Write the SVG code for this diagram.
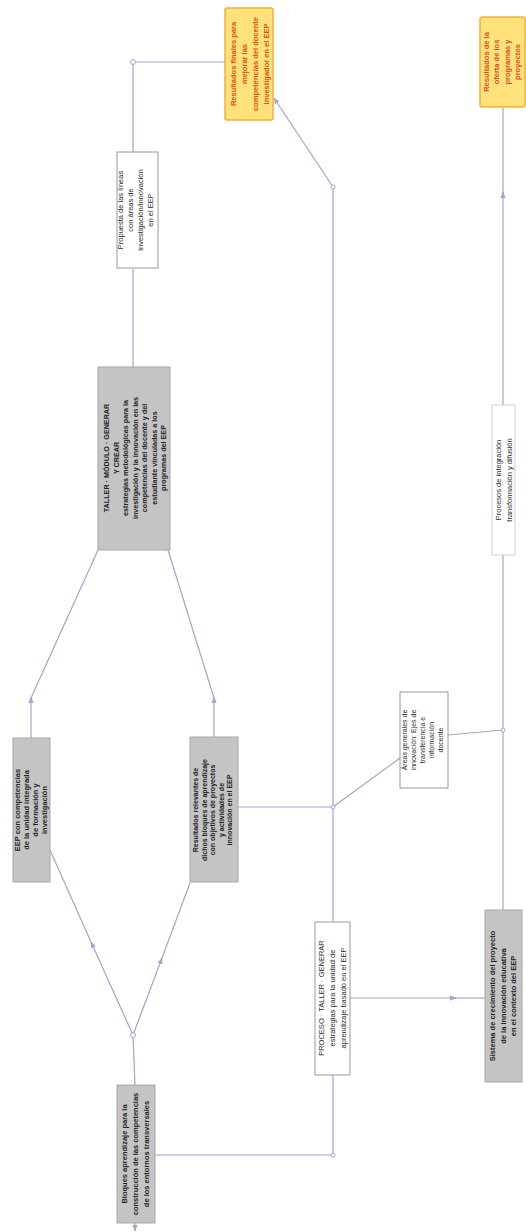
<svg xmlns="http://www.w3.org/2000/svg" width="526" height="1232" viewBox="0 0 526 1232">
<style>
.gray{fill:#c4c4c4;stroke:#a8a8a8;stroke-width:1}
.white{fill:#ffffff;stroke:#9a9a9a;stroke-width:1}
.yellow{fill:#ffe27a;stroke:#f2b03a;stroke-width:1.5}
.t{font-family:"Liberation Sans",Arial,sans-serif;font-size:7.5px;fill:#2a2a2a;text-anchor:middle}
.tb{font-family:"Liberation Sans",Arial,sans-serif;font-size:7.5px;fill:#222222;text-anchor:middle;font-weight:bold}
.ty{font-family:"Liberation Sans",Arial,sans-serif;font-size:7.5px;fill:#de4a1c;text-anchor:middle;font-weight:bold}
.c{fill:none;stroke:#a4a4cf;stroke-width:1.2}
.dot{fill:#ffffff;stroke:#a4a4cf;stroke-width:1}
</style>
<defs>
<marker id="arr" viewBox="0 0 10 10" refX="9" refY="5" markerWidth="5.5" markerHeight="5.5" orient="auto">
<path d="M0,1 L10,5 L0,9 Z" fill="#a4a4cf"/>
</marker>
</defs>
<rect width="526" height="1232" fill="#ffffff"/>

<g id="connectors">
<path class="c" d="M135,1223 L135,1231" marker-end="url(#arr)"/>
<path class="c" d="M135,1085 L133,1035"/>
<path class="c" d="M133,1035 L91,942" marker-end="url(#arr)"/>
<path class="c" d="M91,942 L50,850"/>
<path class="c" d="M133,1035 L162,958" marker-end="url(#arr)"/>
<path class="c" d="M162,958 L190,883"/>
<path class="c" d="M31,738 L31,697" marker-end="url(#arr)"/>
<path class="c" d="M31,698 L98,550"/>
<path class="c" d="M214,738 L214,697" marker-end="url(#arr)"/>
<path class="c" d="M214,698 L168,550"/>
<path class="c" d="M133,367 L133,269"/>
<path class="c" d="M133,152 L133,62 L225,62"/>
<path class="c" d="M238,807 L333,807"/>
<path class="c" d="M155,1155 L333,1155 L333,187"/>
<path class="c" d="M333,187 L274,98" marker-end="url(#arr)"/>
<path class="c" d="M350,998 L456,998" marker-end="url(#arr)"/>
<path class="c" d="M455,998 L485,998"/>
<path class="c" d="M333,807 L400,758"/>
<path class="c" d="M448,735 L503,730"/>
<path class="c" d="M503,910 L503,192" marker-end="url(#arr)"/>
<path class="c" d="M503,193 L503,108"/>
<circle class="dot" cx="133" cy="1035" r="2.5"/>
<circle class="dot" cx="133" cy="62" r="2.5"/>
<circle class="dot" cx="333" cy="807" r="2"/>
<circle class="dot" cx="333" cy="187" r="2"/>
<circle class="dot" cx="333" cy="1155" r="2"/>
<circle class="dot" cx="503" cy="730" r="2"/>
</g>

<g id="node-bloques">
<rect class="gray" x="117" y="1085" width="38" height="138"/>
<text class="tb" transform="translate(136,1154) rotate(-90)"><tspan x="0" dy="-9.4">Bloques aprendizaje para la</tspan><tspan x="0" dy="11">construcción de las competencias</tspan><tspan x="0" dy="11">de los entornos transversales</tspan></text>
</g>

<g id="node-eep-competencias">
<rect class="gray" x="13" y="738" width="37" height="144"/>
<text class="tb" transform="translate(31,810) rotate(-90)"><tspan x="0" dy="-11.5">EEP con competencias</tspan><tspan x="0" dy="9">de la unidad integrada</tspan><tspan x="0" dy="9">de formación y</tspan><tspan x="0" dy="9">investigación</tspan></text>
</g>

<g id="node-resultados-relevantes">
<rect class="gray" x="190" y="737" width="48" height="145"/>
<text class="tb" transform="translate(214,810) rotate(-90)" style="font-size:7px"><tspan x="0" dy="-15.6">Resultados relevantes de</tspan><tspan x="0" dy="8.5">dichos bloques de aprendizaje</tspan><tspan x="0" dy="8.5">con objetivos de proyectos</tspan><tspan x="0" dy="8.5">y actividades de</tspan><tspan x="0" dy="8.5">innovación en el EEP</tspan></text>
</g>

<g id="node-taller">
<rect class="gray" x="98" y="367" width="72" height="183"/>
<text class="tb" transform="translate(135,458) rotate(-90)" style="font-size:7.2px"><tspan x="0" dy="-25.9">TALLER · MÓDULO · GENERAR</tspan><tspan x="0" dy="9.5">Y CREAR</tspan><tspan x="0" dy="9.5">estrategias metodológicas para la</tspan><tspan x="0" dy="9.5">investigación y la innovación en las</tspan><tspan x="0" dy="9.5">competencias del docente y del</tspan><tspan x="0" dy="9.5">estudiante vinculadas a los</tspan><tspan x="0" dy="9.5">programas del EEP</tspan></text>
</g>

<g id="node-propuesta">
<rect class="white" x="117" y="152" width="41" height="116"/>
<text class="t" transform="translate(136,210) rotate(-90)"><tspan x="0" dy="-12.6">Propuesta de las líneas</tspan><tspan x="0" dy="10">con áreas de</tspan><tspan x="0" dy="10">investigación/innovación</tspan><tspan x="0" dy="10">en el EEP</tspan></text>
</g>

<g id="node-resultados-finales">
<rect class="yellow" x="225" y="8" width="48" height="112" rx="2"/>
<text class="ty" transform="translate(250,64) rotate(-90)"><tspan x="0" dy="-13.9">Resultados finales para</tspan><tspan x="0" dy="11">mejorar las</tspan><tspan x="0" dy="11">competencias del docente</tspan><tspan x="0" dy="11">investigador en el EEP</tspan></text>
</g>

<g id="node-resultados-oferta">
<rect class="yellow" x="480" y="17" width="45" height="90" rx="2"/>
<text class="ty" transform="translate(502,62) rotate(-90)"><tspan x="0" dy="-12.9">Resultados de la</tspan><tspan x="0" dy="10.3">oferta de los</tspan><tspan x="0" dy="10.3">programas y</tspan><tspan x="0" dy="10.3">proyectos</tspan></text>
</g>

<g id="node-proceso">
<rect class="white" x="315" y="922" width="35" height="153"/>
<text class="t" transform="translate(332,998) rotate(-90)"><tspan x="0" dy="-8.4">PROCESO · TALLER · GENERAR</tspan><tspan x="0" dy="11">estrategias para la unidad de</tspan><tspan x="0" dy="11">aprendizaje basado en el EEP</tspan></text>
</g>

<g id="node-sistema">
<rect class="gray" x="485" y="910" width="37" height="172"/>
<text class="tb" transform="translate(503,996) rotate(-90)"><tspan x="0" dy="-7.9">Sistema de crecimiento del proyecto</tspan><tspan x="0" dy="10.5">de la innovación educativa</tspan><tspan x="0" dy="10.5">en el contexto del EEP</tspan></text>
</g>

<g id="node-areas">
<rect class="white" x="400" y="692" width="48" height="96"/>
<text class="t" transform="translate(424,740) rotate(-90)" style="font-size:7px"><tspan x="0" dy="-16.6">Áreas generales de</tspan><tspan x="0" dy="9">innovación: Ejes de</tspan><tspan x="0" dy="9">transferencia e</tspan><tspan x="0" dy="9">información</tspan><tspan x="0" dy="9">docente</tspan></text>
</g>

<g id="node-procesos-integracion">
<rect class="white" x="492" y="405" width="23" height="150" style="stroke:#cfcfcf"/>
<text class="t" transform="translate(504,480) rotate(-90)"><tspan x="0" dy="-3.4">Procesos de integración</tspan><tspan x="0" dy="11">transformación y difusión</tspan></text>
</g>
</svg>
